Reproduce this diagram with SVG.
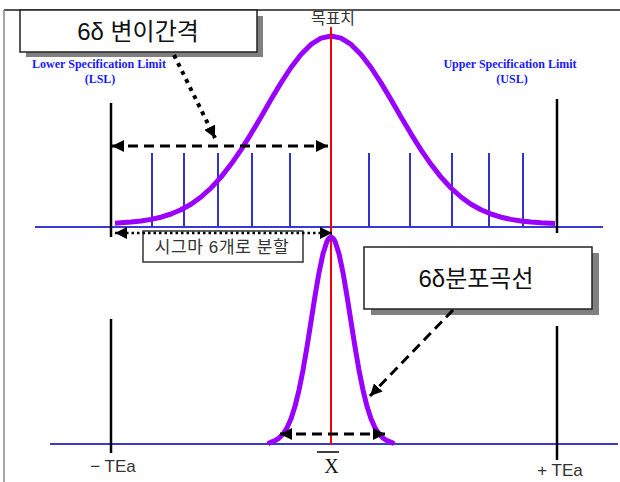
<svg xmlns="http://www.w3.org/2000/svg" width="620" height="482" viewBox="0 0 620 482">
<defs>
<style>
.frame{stroke:#666;stroke-width:1.5;fill:none}
.axis{stroke:#3a3ad0;stroke-width:2;fill:none}
.tick{stroke:#3333cc;stroke-width:2}
.limit{stroke:#000;stroke-width:2.5}
.curve{stroke:#9900ff;stroke-width:5;fill:none;stroke-linejoin:round;stroke-linecap:butt}
.target{stroke:#ff0000;stroke-width:2}
.dash{stroke:#000;stroke-width:3;stroke-dasharray:10 6;fill:none}
.dot{stroke:#000;stroke-width:2.5;stroke-dasharray:2.5 3;fill:none}
.bigdot{stroke:#000;stroke-width:4;stroke-dasharray:4 5;fill:none}
.box{fill:#fff;stroke:#222;stroke-width:1.5}
.shadow{fill:#808080}
.big{font-family:"Liberation Sans","Noto Sans CJK KR",sans-serif;font-size:24px;fill:#111;text-anchor:middle}
.kr{font-family:"Liberation Sans","Noto Sans CJK KR",sans-serif;fill:#333;text-anchor:middle}
.spec{font-family:"Liberation Serif",serif;font-weight:bold;font-size:12px;fill:#1a1aff;text-anchor:middle}
</style>
<marker id="ah" viewBox="0 0 12 12" refX="12" refY="6" markerWidth="12" markerHeight="12" markerUnits="userSpaceOnUse" orient="auto-start-reverse">
<path d="M0,0 L12,6 L0,12 z" fill="#000"/>
</marker>
</defs>

<g id="frame">
<line class="frame" x1="4" y1="10" x2="620" y2="10" style="stroke:#555;stroke-width:2"/>
<line class="frame" x1="4" y1="10" x2="4" y2="482" style="stroke:#888"/>
</g>

<g id="axes">
<line class="axis" x1="35" y1="227" x2="603" y2="227"/>
<line class="axis" x1="50" y1="444" x2="618" y2="444"/>
</g>

<g id="ticks">
<line class="tick" x1="152" y1="153" x2="152" y2="227"/>
<line class="tick" x1="184" y1="153" x2="184" y2="227"/>
<line class="tick" x1="218" y1="153" x2="218" y2="227"/>
<line class="tick" x1="252" y1="153" x2="252" y2="227"/>
<line class="tick" x1="290" y1="153" x2="290" y2="227"/>
<line class="tick" x1="369" y1="153" x2="369" y2="227"/>
<line class="tick" x1="410" y1="153" x2="410" y2="227"/>
<line class="tick" x1="452" y1="153" x2="452" y2="227"/>
<line class="tick" x1="489" y1="153" x2="489" y2="227"/>
<line class="tick" x1="523" y1="153" x2="523" y2="227"/>
</g>

<g id="limits">
<line class="limit" x1="111" y1="103" x2="111" y2="237"/>
<line class="limit" x1="557" y1="99" x2="557" y2="233"/>
<line class="limit" x1="111" y1="319" x2="111" y2="453"/>
<line class="limit" x1="557" y1="326" x2="557" y2="460"/>
</g>

<g id="upper-curve">
<polyline class="curve" points="115,223.2 121,222.8 131,222.1 141,221 151,219.4 161,217.2 171,214 181,209.8 191,204.2 201,197 211,188 221,177.1 231,164.3 241,149.8 251,133.8 261,116.9 271,99.6 281,82.9 291,67.5 301,54.5 311,44.4 321,38.1 331,36 341,38.1 351,44.4 361,54.5 371,67.5 381,82.9 391,99.6 401,116.9 411,133.8 421,149.8 431,164.3 441,177.1 451,188 461,197 471,204.2 481,209.8 491,214 501,217.2 511,219.4 521,221 531,222.1 541,222.8 555,223.4"/>
</g>

<g id="target-line">
<line class="target" x1="331" y1="27" x2="331" y2="445"/>
</g>

<g id="lower-curve">
<polyline class="curve" points="268,444 270,442.5 275,440.7 279,438.1 283,434 287,427.8 291,418.7 295,406.3 299,390.1 303,370.2 307,346.9 311,321.7 315,296.2 319,272.7 323,253.7 327,241.3 329,238.1 331,237 333,238.1 335,241.3 339,253.7 343,272.7 347,296.2 351,321.7 355,346.9 359,370.2 363,390.1 367,406.3 371,418.7 375,427.8 379,434 383,438.1 387,440.7 392,442.5 394,444"/>
</g>

<g id="box-variation">
<rect class="shadow" x="26" y="16" width="237" height="41"/>
<rect class="box" x="20" y="10" width="237" height="42"/>
<text class="big" x="138" y="40">6δ 변이간격</text>
</g>

<g id="box-distribution">
<rect class="shadow" x="371" y="253" width="228" height="62"/>
<rect class="box" x="364" y="247" width="228" height="62"/>
<text class="big" x="476" y="287">6δ분포곡선</text>
</g>

<g id="box-split">
<rect x="143" y="231" width="160" height="31" fill="#fff" stroke="#333" stroke-width="1.5"/>
<text class="kr" x="222" y="253" style="font-size:17px;letter-spacing:0.6px">시그마 6개로 분할</text>
</g>

<g id="label-lsl">
<text class="spec" x="99" y="68">Lower Specification Limit</text>
<text class="spec" x="100" y="83">(LSL)</text>
</g>
<g id="label-usl">
<text class="spec" x="510" y="68">Upper Specification Limit</text>
<text class="spec" x="512" y="83">(USL)</text>
</g>
<g id="label-target">
<text class="kr" x="333" y="24" style="font-size:16px">목표치</text>
</g>
<g id="label-minus-tea">
<text class="kr" x="113" y="472" style="font-size:17px">− TEa</text>
</g>
<g id="label-plus-tea">
<text class="kr" x="560" y="476" style="font-size:17px">+ TEa</text>
</g>
<g id="label-xbar">
<line x1="317" y1="452" x2="339" y2="452" stroke="#000" stroke-width="1.5"/>
<text x="331.5" y="473" font-family="Liberation Serif, serif" font-size="20" text-anchor="middle" fill="#111">X</text>
</g>

<g id="connectors">
<line class="dash" x1="112" y1="146" x2="328" y2="146" marker-start="url(#ah)" marker-end="url(#ah)"/>
<line class="dot" x1="115" y1="233" x2="332" y2="233" marker-start="url(#ah)" marker-end="url(#ah)"/>
<line class="bigdot" x1="174" y1="55" x2="215" y2="138" marker-end="url(#ah)"/>
<line class="dash" x1="453" y1="310" x2="370" y2="396" marker-end="url(#ah)"/>
<line class="dash" x1="280" y1="434" x2="385" y2="434" marker-start="url(#ah)" marker-end="url(#ah)"/>
</g>
</svg>
